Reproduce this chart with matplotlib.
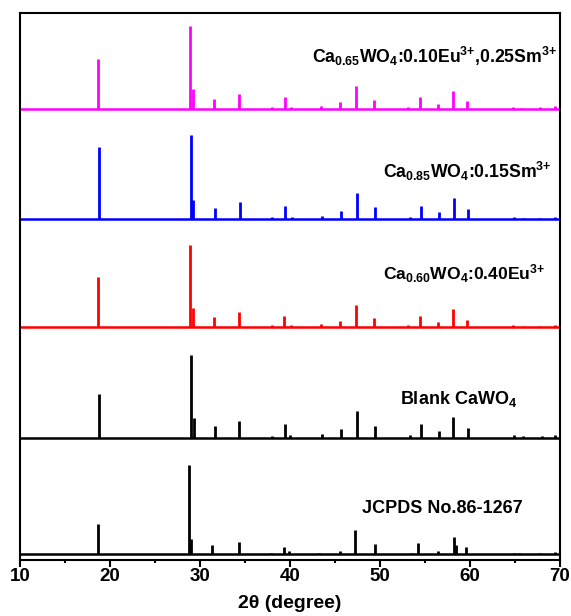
import numpy as np
import matplotlib
matplotlib.use("Agg")
import matplotlib.pyplot as plt

plt.rcParams['font.family'] = ['Liberation Sans', 'DejaVu Sans']
plt.rcParams['font.weight'] = 'bold'
plt.rcParams['mathtext.fontset'] = 'custom'
plt.rcParams['mathtext.rm'] = 'Liberation Sans:bold'
plt.rcParams['mathtext.it'] = 'Liberation Sans:bold'
plt.rcParams['mathtext.bf'] = 'Liberation Sans:bold'
plt.rcParams['mathtext.default'] = 'rm'

# Peak positions (2theta) and heights
jcpds_pos = [18.65, 28.78, 29.0, 31.33, 34.37, 37.9, 39.37, 39.9, 43.2, 45.6, 47.2,
             49.4, 53.4, 54.26, 56.4, 58.2, 58.4, 59.6, 64.9, 65.4, 67.8, 69.4]
jcpds_int = [30, 89, 15, 9, 12, 1.5, 7, 3.5, 1, 3, 24,
             10, 1, 11, 3.5, 17, 9, 7, 1.5, 1.5, 1.5, 2]

blank_pos = [18.8, 28.97, 29.3, 31.67, 34.37, 37.96, 39.4, 40.0, 43.6, 45.7, 47.4,
             49.4, 53.3, 54.6, 56.6, 58.1, 59.8, 64.9, 65.9, 68.0, 69.4]
blank_int = [44, 83, 20, 12, 17, 2, 14, 3, 4, 9, 27,
             12, 3, 14, 7, 21, 10, 3, 2, 2, 3]

eu_pos = [18.7, 28.9, 29.2, 31.6, 34.3, 37.96, 39.3, 40.1, 43.5, 45.6, 47.3,
          49.3, 53.1, 54.5, 56.5, 58.1, 59.7, 64.8, 65.9, 67.8, 69.4]
eu_int = [50, 82, 19, 10, 15, 2, 11, 2, 3, 6, 22,
          9, 2, 11, 5, 18, 7, 2, 1, 1.5, 2.5]

sm_pos = [18.8, 28.96, 29.25, 31.7, 34.4, 37.96, 39.4, 40.2, 43.6, 45.7, 47.4,
          49.4, 53.3, 54.6, 56.6, 58.2, 59.8, 64.9, 65.9, 67.8, 69.4]
sm_int = [72, 84, 19, 11, 17, 2, 13, 2, 3.5, 8, 26,
          12, 2, 13, 7, 21, 10, 2, 1, 1.5, 2.5]

eusm_pos = [18.7, 28.9, 29.2, 31.6, 34.3, 38.0, 39.4, 40.1, 43.5, 45.6, 47.3,
            49.3, 53.1, 54.5, 56.5, 58.1, 59.7, 64.8, 65.7, 67.8, 69.4]
eusm_int = [50, 83, 20, 10, 15, 2, 12, 2, 3, 7, 23,
            9, 2, 12, 5, 18, 8, 2, 1, 1.5, 2.5]

labels = ['JCPDS No.86-1267',
          r'Blank CaWO$_4$',
          r'Ca$_{0.60}$WO$_4$:0.40Eu$^{3{+}}$',
          r'Ca$_{0.85}$WO$_4$:0.15Sm$^{3{+}}$',
          r'Ca$_{0.65}$WO$_4$:0.10Eu$^{3{+}}$,0.25Sm$^{3{+}}$']
colors = ['black', 'black', '#ff0000', '#0000ff', '#ff00ff']
positions = [jcpds_pos, blank_pos, eu_pos, sm_pos, eusm_pos]
intensities = [jcpds_int, blank_int, eu_int, sm_int, eusm_int]

# vertical offsets of each pattern, label anchor (x, y) and label size
offsets = [6, 122, 233, 341, 451]
label_xy = [(48.0, 46.7), (52.2, 156), (50.3, 280.7), (50.3, 381.7), (42.5, 496.7)]
label_size = [13, 13, 12.6, 12.7, 12.7]

fig = plt.figure(figsize=(5.71, 6.16), dpi=100)
ax = fig.add_axes([0.035, 0.0909, 0.9457, 0.888])

for pos, inten, off, col, lab, (tx, ty), fs in zip(positions, intensities, offsets,
                                                    colors, labels, label_xy, label_size):
    ax.axhline(off, color=col, lw=1.8)
    ax.vlines(pos, off, off + np.array(inten), color=col, lw=2.0)
    ax.text(tx, ty, lab, fontsize=fs, fontweight='bold', ha='left', va='baseline')

ax.set_xlim(10, 70)
ax.set_ylim(0, 547)
ax.set_yticks([])
ax.set_xticks([10, 20, 30, 40, 50, 60, 70])
ax.set_xticks(np.arange(15, 70, 10), minor=True)
ax.tick_params(axis='x', which='major', length=5, width=1.5, labelsize=13.5, pad=1)
ax.tick_params(axis='x', which='minor', length=2.5, width=1.5)
for lab in ax.get_xticklabels():
    lab.set_fontweight('bold')
for s in ax.spines.values():
    s.set_linewidth(1.5)

ax.set_xlabel('2θ (degree)', fontsize=14, fontweight='bold', labelpad=7)

fig.savefig('out.png', dpi=100)
